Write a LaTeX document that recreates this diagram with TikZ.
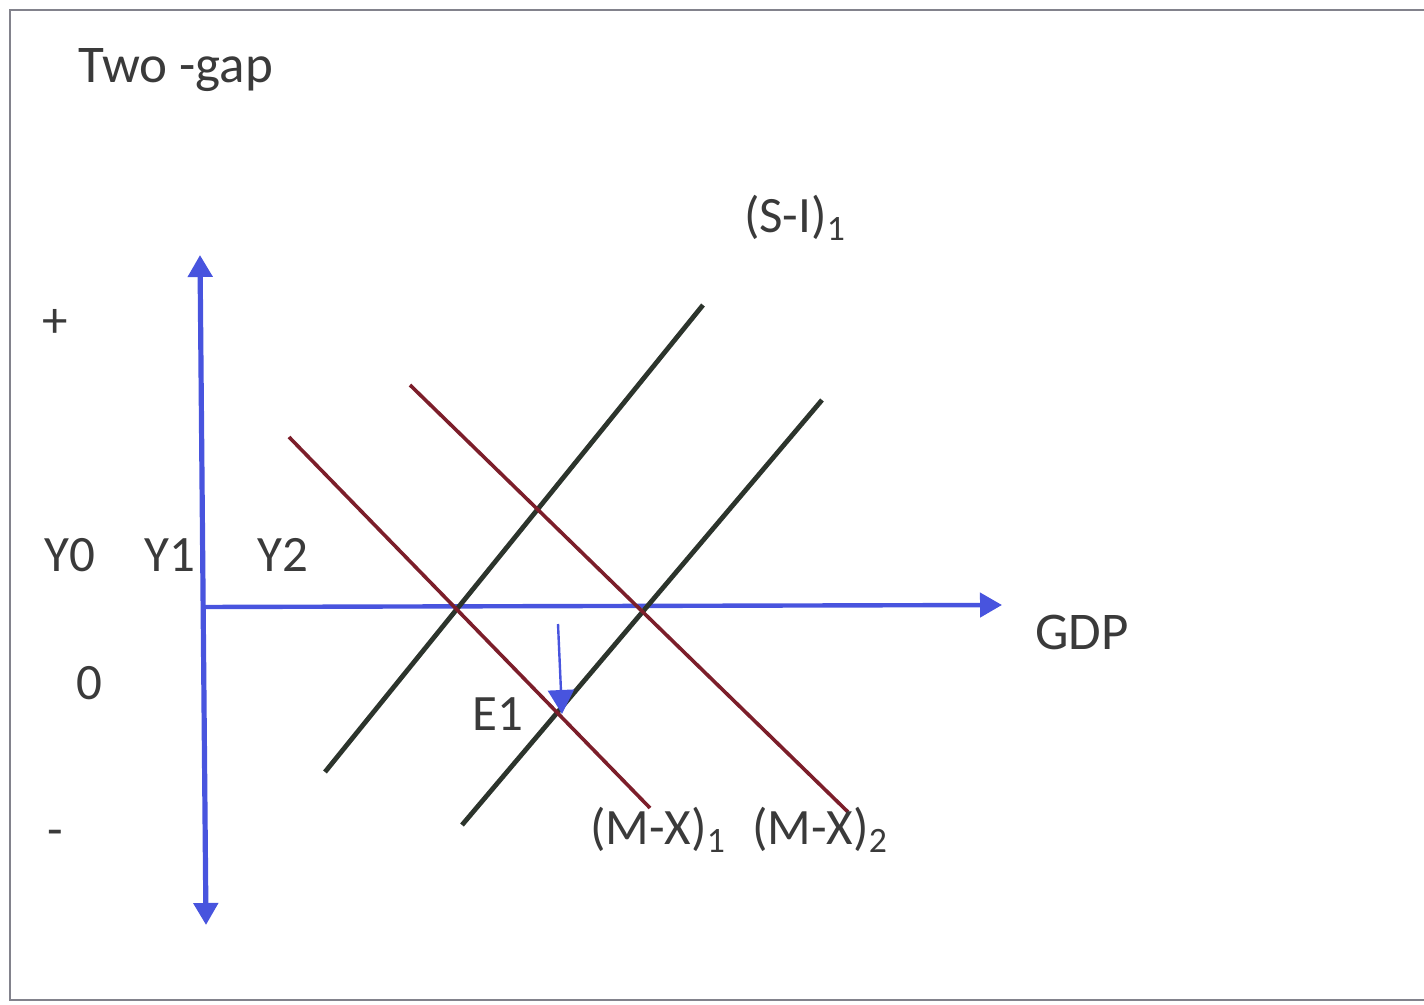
\documentclass[tikz,border=0pt]{standalone}
\usepackage{fontspec}
\setmainfont{Carlito}
\usepackage{xcolor}
\usetikzlibrary{arrows.meta, positioning}
\definecolor{axisblue}{RGB}{72, 84, 222}
\definecolor{sidark}{RGB}{44, 52, 44}
\definecolor{mxred}{RGB}{124, 30, 42}
\definecolor{labelgray}{RGB}{58, 58, 58}
\definecolor{framegray}{RGB}{130, 130, 140}

\begin{document}
\begin{tikzpicture}[
    x=0.5pt, y=-0.5pt,
    axis/.style={{Triangle[length=11pt, width=12pt]}-{Triangle[length=11pt, width=12pt]}, line width=2.6pt, color=axisblue},
    gdpaxis/.style={-{Triangle[length=11pt, width=12pt]}, line width=2.2pt, color=axisblue},
    shiftarrow/.style={-{Triangle[length=12pt, width=13pt]}, line width=1.2pt, color=axisblue},
    sicurve/.style={line width=2.4pt, color=sidark},
    mxcurve/.style={line width=1.8pt, color=mxred},
    lbl/.style={font=\fontsize{25.5}{29}\selectfont, text=labelgray, inner sep=1pt}
]
    \useasboundingbox (0,0) rectangle (1424,1005);
    \draw[framegray, line width=0.8pt] (1430,10) -- (10,10) -- (10,1000) -- (1430,1000);

    % axes
    \coordinate (ytop) at (200,255);
    \coordinate (ybot) at (206,925);
    \coordinate (orig) at (202,607);
    \coordinate (xend) at (1002,605);
    \draw[axis] (ybot) -- (ytop);
    \draw[gdpaxis] (orig) -- (xend);

    % savings-investment gap
    \coordinate (si1a) at (325,772);
    \coordinate (si1b) at (703,305);
    \coordinate (si2a) at (462,825);
    \coordinate (si2b) at (822,400);
    \draw[sicurve] (si1a) -- (si1b);
    \draw[sicurve] (si2a) -- (si2b);

    % import-export gap
    \coordinate (mx1a) at (289,437);
    \coordinate (mx1b) at (650,808);
    \coordinate (mx2a) at (410,385);
    \coordinate (mx2b) at (848,812);
    \draw[mxcurve] (mx1a) -- (mx1b);
    \draw[mxcurve] (mx2a) -- (mx2b);

    \coordinate (shtop) at (558,624);
    \coordinate (e1pt) at (562,714);
    \draw[shiftarrow] (shtop) -- (e1pt);

    \node[lbl, font=\fontsize{26.5}{30}\selectfont] (title) at (176,70) {Two -gap};
    \node[lbl] (silbl) at (795,218) {(S-I)\textsubscript{1}};
    \node[lbl] (plus) at (55,323) {+};
    \node[lbl] (y0) at (70,555) {Y0};
    \node[lbl] (y1) at (170,555) {Y1};
    \node[lbl] (y2) at (283,555) {Y2};
    \node[lbl] (zero) at (89,683) {0};
    \node[lbl] (e1) at (498,714) {E1};
    \node[lbl] (minus) at (55,838) {-};
    \node[lbl] (mx1lbl) at (658,830) {(M-X)\textsubscript{1}};
    \node[lbl] (mx2lbl) at (820,830) {(M-X)\textsubscript{2}};
    \node[lbl, font=\fontsize{26.5}{30}\selectfont] (gdp) at (1082,632) {GDP};

\end{tikzpicture}
\end{document}
